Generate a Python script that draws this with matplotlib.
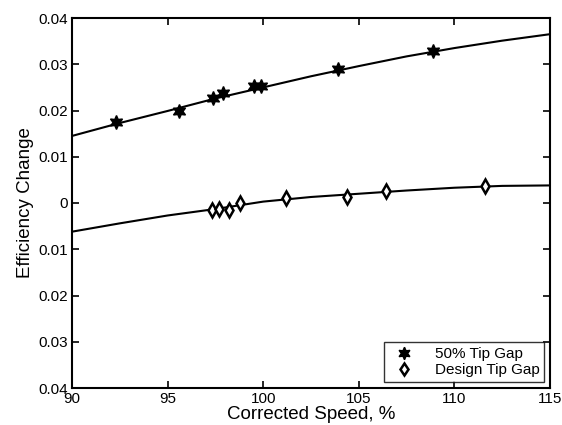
import matplotlib
matplotlib.use("Agg")
import matplotlib.pyplot as plt
from matplotlib.ticker import FixedLocator

plt.rcParams['font.family'] = ['Liberation Sans', 'DejaVu Sans']

# data
speed_50 = [92.3, 95.6, 97.4, 97.9, 99.5, 99.9, 103.9, 108.9]
eff_50 = [0.0176, 0.0200, 0.0228, 0.0237, 0.0252, 0.0252, 0.0289, 0.0328]

speed_design = [97.3, 97.7, 98.2, 98.8, 101.2, 104.4, 106.4, 111.6]
eff_design = [-0.0015, -0.0013, -0.0016, 0.0000, 0.0011, 0.0014, 0.0026, 0.0036]

fit_speed = [90, 92.5, 95, 97.5, 100, 102.5, 105, 107.5, 110, 112.5, 115]
fit_50 = [0.0145, 0.0173, 0.0199, 0.0226, 0.0250, 0.0274, 0.0296, 0.0317, 0.0335, 0.0351, 0.0365]
fit_design = [-0.0062, -0.0044, -0.0027, -0.0013, 0.0003, 0.0013, 0.0020, 0.0027, 0.0033, 0.0037, 0.0038]

xticks = [90, 95, 100, 105, 110, 115]
yticks = [0.04, 0.03, 0.02, 0.01, 0, -0.01, -0.02, -0.03, -0.04]
ytick_labels = ["0.04", "0.03", "0.02", "0.01", "0", "0.01", "0.02", "0.03", "0.04"]

fig = plt.figure(figsize=(5.62, 4.25), dpi=100)
ax = fig.add_axes([72/562, 1 - 388/425, (550-72)/562, (388-18)/425])

ax.plot(fit_speed, fit_50, color='black', lw=1.5)
ax.plot(fit_speed, fit_design, color='black', lw=1.5)

ax.plot(speed_50, eff_50, linestyle='none', marker=(6, 1, 0), markersize=10,
        color='black', mec='black', mew=1.0, label='50% Tip Gap')
ax.plot(speed_design, eff_design, linestyle='none', marker='d', markersize=7,
        mfc='white', mec='black', mew=1.8, label='Design Tip Gap')

ax.set_xlim(90, 115)
ax.set_ylim(-0.04, 0.04)
ax.xaxis.set_major_locator(FixedLocator(xticks))
ax.set_xticklabels([str(t) for t in xticks])
ax.yaxis.set_major_locator(FixedLocator(yticks))
ax.set_yticklabels(ytick_labels)
ax.tick_params(direction='in', top=True, right=True, length=5, width=1.2,
               labelsize=11, pad=3)
for s in ax.spines.values():
    s.set_linewidth(1.5)

ax.set_xlabel('Corrected Speed, %', fontsize=13.5, labelpad=0)
ax.set_ylabel('Efficiency Change', fontsize=13.5, labelpad=3)

leg = ax.legend(loc='lower right', fontsize=11, frameon=True, fancybox=False,
                edgecolor='black', borderpad=0.3, handletextpad=1.0,
                labelspacing=0.15, borderaxespad=0.4, handlelength=2.0,
                markerscale=0.9)
leg.get_frame().set_linewidth(1.0)

fig.savefig('out.png', dpi=100)
